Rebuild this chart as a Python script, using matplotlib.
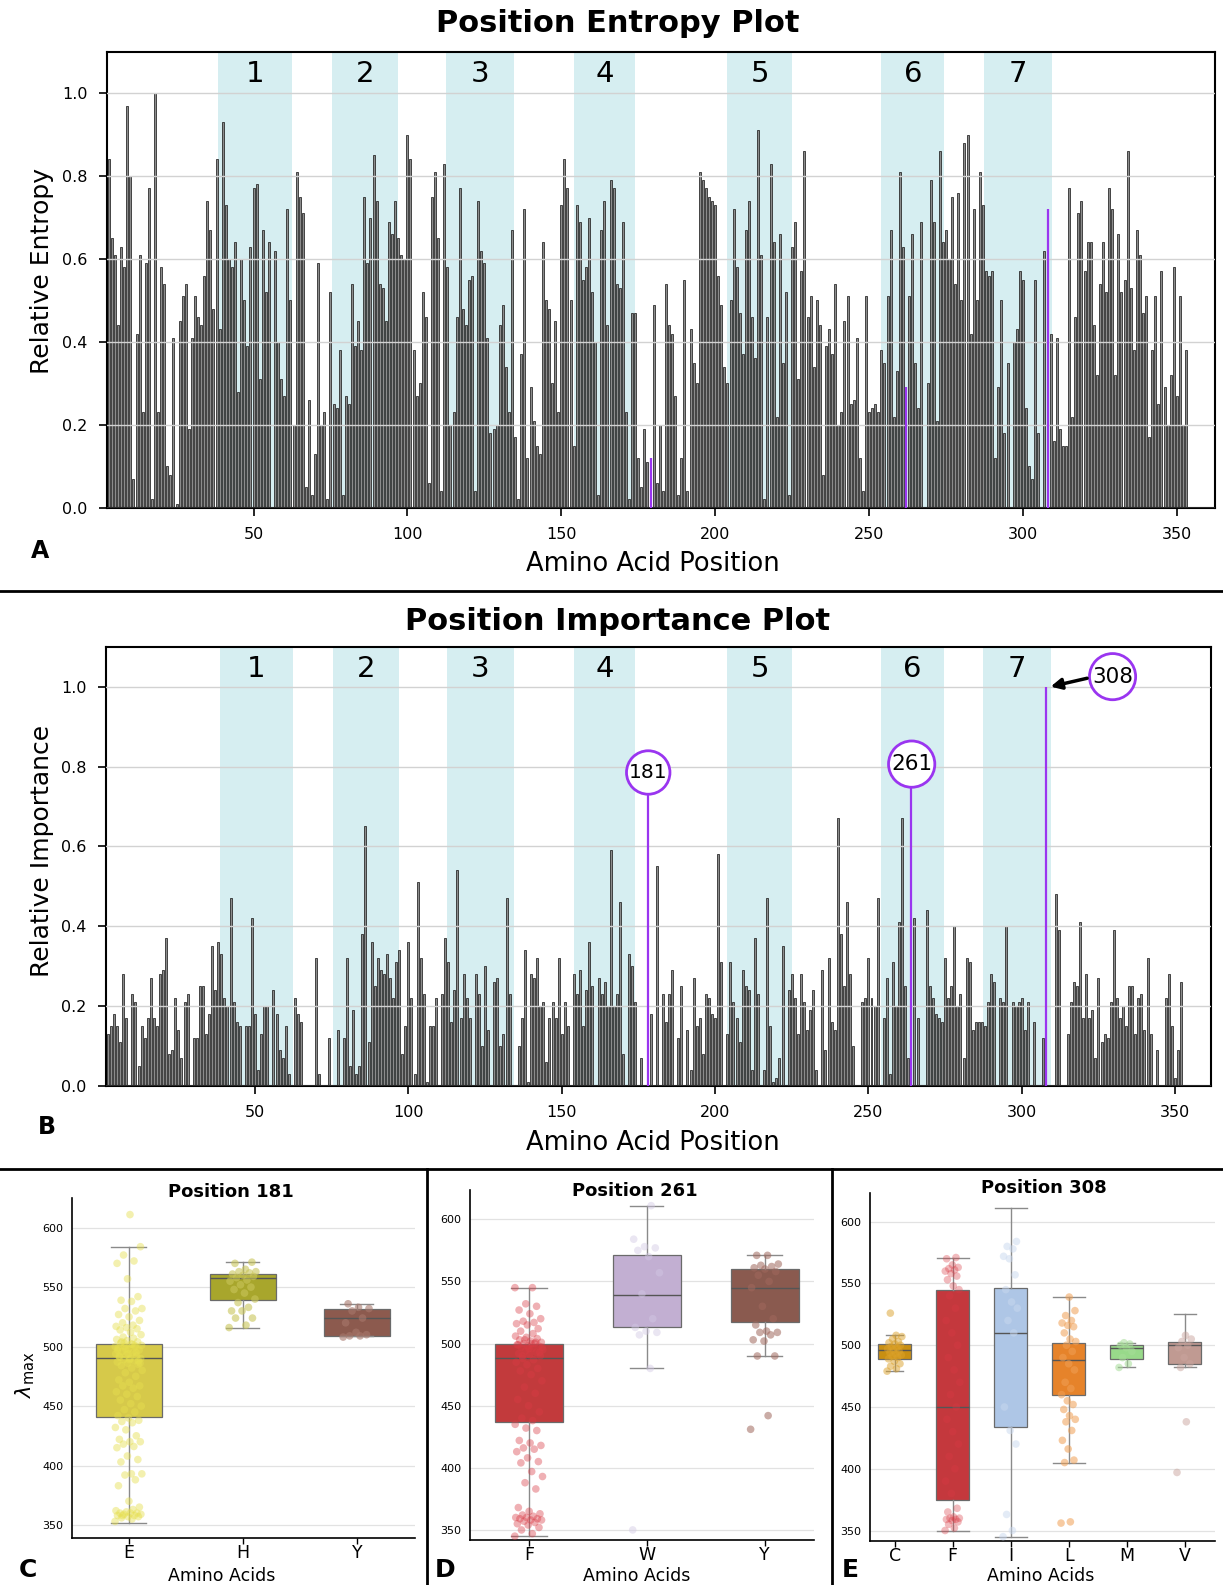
import numpy as np
import matplotlib.pyplot as plt
from matplotlib.lines import Line2D

plt.rcParams['font.family'] = ['DejaVu Sans']

# ---------------- data ----------------
# relative entropy per position (positions start at 2)
entropy = [
    0.26, 0.84, 0.65, 0.61, 0.44, 0.63, 0.58, 0.97, 0.80, 0.07,
    0.42, 0.61, 0.23, 0.59, 0.77, 0.02, 1.00, 0.23, 0.58, 0.54,
    0.10, 0.08, 0.41, 0.01, 0.45, 0.51, 0.54, 0.19, 0.41, 0.51,
    0.46, 0.44, 0.56, 0.74, 0.67, 0.48, 0.84, 0.43, 0.93, 0.73,
    0.60, 0.58, 0.64, 0.28, 0.60, 0.50, 0.39, 0.63, 0.77,
    0.78, 0.31, 0.67, 0.52, 0.64, 0.00, 0.62, 0.40, 0.31, 0.27,
    0.72, 0.50, 0.20, 0.81, 0.75, 0.71, 0.05, 0.26, 0.03, 0.13,
    0.59, 0.20, 0.23, 0.02, 0.52, 0.25, 0.24, 0.38, 0.03, 0.27,
    0.25, 0.54, 0.39, 0.45, 0.38, 0.75, 0.59, 0.70, 0.85, 0.74,
    0.54, 0.53, 0.45,
    0.69, 0.66, 0.74, 0.65, 0.61, 0.60, 0.90, 0.84, 0.38, 0.27,
    0.30, 0.52, 0.46, 0.06, 0.75, 0.81, 0.65, 0.04, 0.83, 0.58,
    0.20, 0.23, 0.46, 0.77, 0.48, 0.44, 0.55, 0.56, 0.04, 0.74,
    0.62, 0.59, 0.41, 0.18, 0.19, 0.20, 0.44, 0.49, 0.34, 0.23,
    0.67, 0.17, 0.02, 0.37, 0.72, 0.12, 0.29, 0.21, 0.15, 0.13,
    0.64, 0.50, 0.48, 0.30, 0.45, 0.23, 0.73, 0.84, 0.77, 0.50,
    0.15, 0.73, 0.69, 0.55, 0.58, 0.70, 0.52, 0.40, 0.03, 0.67,
    0.74, 0.44, 0.79, 0.77, 0.54, 0.53, 0.69, 0.23, 0.02, 0.47,
    0.47, 0.12, 0.05, 0.19, 0.11, 0.12, 0.49, 0.06, 0.20, 0.04,
    0.54, 0.44,
    0.42, 0.27, 0.03, 0.12, 0.55, 0.04, 0.43, 0.35, 0.30, 0.81,
    0.79, 0.77, 0.75, 0.74, 0.73, 0.56, 0.49, 0.34, 0.30, 0.50,
    0.72, 0.58, 0.47, 0.37, 0.67, 0.74, 0.46, 0.36, 0.91, 0.61,
    0.02, 0.46, 0.83, 0.64, 0.22, 0.66, 0.35, 0.52, 0.03, 0.63,
    0.69, 0.31, 0.57, 0.86, 0.46, 0.51, 0.34, 0.50, 0.44, 0.08,
    0.39, 0.43, 0.37, 0.54, 0.20, 0.23, 0.45, 0.51, 0.25, 0.26,
    0.41, 0.12, 0.04, 0.51, 0.23, 0.24, 0.25, 0.23, 0.38, 0.35,
    0.51, 0.67, 0.22, 0.33, 0.81, 0.63, 0.29, 0.51, 0.66, 0.35,
    0.24, 0.69, 0.00, 0.30, 0.79, 0.69, 0.21, 0.86, 0.64, 0.67,
    0.60, 0.75, 0.54, 0.76, 0.50, 0.88, 0.90, 0.42, 0.72, 0.50,
    0.81, 0.73, 0.57, 0.56, 0.57, 0.12, 0.29, 0.50, 0.18, 0.35,
    0.00, 0.40, 0.43, 0.57, 0.55, 0.24, 0.10, 0.07, 0.55, 0.18,
    0.00, 0.62, 0.72, 0.42, 0.16, 0.41, 0.19, 0.15, 0.15, 0.77,
    0.22, 0.46, 0.71, 0.74, 0.57, 0.64, 0.64, 0.44, 0.32, 0.54,
    0.64, 0.52, 0.77, 0.72, 0.32, 0.66, 0.52, 0.55, 0.86, 0.53,
    0.38, 0.67, 0.61, 0.47, 0.51, 0.17, 0.38, 0.51, 0.25, 0.57,
    0.29, 0.20, 0.32, 0.58, 0.27, 0.51, 0.20, 0.38,
]
entropy_start = 2
entropy_highlight = [179, 262, 308]

# relative importance per position (positions start at 2)
importance = [
    0.13, 0.15, 0.18, 0.15, 0.11, 0.28, 0.17, 0.00, 0.23, 0.21,
    0.05, 0.15, 0.12, 0.17, 0.27, 0.17, 0.15, 0.28, 0.29, 0.37,
    0.08, 0.09, 0.22, 0.14, 0.07, 0.21, 0.23, 0.00, 0.12, 0.12,
    0.25, 0.25, 0.13, 0.18, 0.35, 0.24, 0.36, 0.33, 0.22, 0.20,
    0.47, 0.21, 0.16, 0.15, 0.00, 0.15, 0.15, 0.42, 0.18, 0.04,
    0.13, 0.20, 0.20, 0.00, 0.24, 0.18, 0.09, 0.07, 0.15, 0.03,
    0.00, 0.22, 0.18, 0.16, 0.00, 0.00, 0.00, 0.003, 0.32, 0.03,
    0.00, 0.00, 0.12, 0.00, 0.00, 0.14, 0.00, 0.12, 0.32, 0.05,
    0.19, 0.03, 0.05, 0.38, 0.65, 0.11, 0.36, 0.25, 0.32, 0.29,
    0.28, 0.33, 0.27,
    0.22, 0.31, 0.34, 0.08, 0.15, 0.36, 0.22, 0.03, 0.51, 0.32,
    0.23, 0.01, 0.15, 0.15, 0.22, 0.00, 0.23, 0.37, 0.31, 0.16,
    0.24, 0.54, 0.17, 0.28, 0.22, 0.17, 0.00, 0.28, 0.23, 0.10,
    0.30, 0.14, 0.00, 0.26, 0.27, 0.10, 0.13, 0.47, 0.23, 0.00,
    0.00, 0.10, 0.17, 0.34, 0.01, 0.28, 0.27, 0.32, 0.20, 0.21,
    0.06, 0.17, 0.21, 0.17, 0.32, 0.13, 0.21, 0.15, 0.00, 0.28,
    0.23, 0.29, 0.15, 0.24, 0.36, 0.25, 0.00, 0.27, 0.23, 0.26,
    0.20, 0.59, 0.20, 0.23, 0.46, 0.08, 0.00, 0.33, 0.30, 0.21,
    0.00, 0.07, 0.00, 0.73, 0.18, 0.00, 0.55, 0.00, 0.23, 0.16,
    0.23,
    0.29, 0.00, 0.12, 0.25, 0.00, 0.14, 0.04, 0.27, 0.15, 0.17,
    0.08, 0.23, 0.22, 0.18, 0.17, 0.58, 0.31, 0.00, 0.13, 0.31,
    0.21, 0.17, 0.11, 0.29, 0.25, 0.24, 0.04, 0.37, 0.23, 0.00,
    0.04, 0.47, 0.15, 0.01, 0.02, 0.07, 0.35, 0.00, 0.24, 0.28,
    0.22, 0.13, 0.28, 0.21, 0.14, 0.19, 0.24, 0.04, 0.00, 0.29,
    0.09, 0.32, 0.16, 0.14, 0.67, 0.38, 0.25, 0.46, 0.28, 0.10,
    0.00, 0.00, 0.21, 0.22, 0.32, 0.22, 0.20, 0.47, 0.00, 0.17,
    0.27, 0.03, 0.31, 0.20, 0.41, 0.67, 0.25, 0.07, 0.745, 0.42,
    0.17, 0.00, 0.00, 0.44, 0.25, 0.22, 0.18, 0.17, 0.16, 0.32,
    0.22,
    0.25, 0.40, 0.20, 0.23, 0.07, 0.32, 0.31, 0.14, 0.16, 0.16,
    0.16, 0.15, 0.21, 0.28, 0.26, 0.00, 0.22, 0.21, 0.40, 0.00,
    0.21, 0.20, 0.21, 0.22, 0.14, 0.21, 0.00, 0.16, 0.00, 0.00,
    0.12, 1.00, 0.00, 0.00, 0.48, 0.39, 0.00, 0.00, 0.13, 0.21,
    0.26, 0.25, 0.41, 0.17, 0.28, 0.17, 0.19, 0.07, 0.27, 0.11,
    0.13, 0.12, 0.21, 0.39, 0.22, 0.17, 0.20, 0.15, 0.25, 0.25,
    0.13, 0.22, 0.23, 0.14, 0.32, 0.13, 0.00, 0.09, 0.00, 0.00,
    0.22, 0.28, 0.15, 0.02, 0.09, 0.26,
]
importance_start = 2
importance_highlight = [178, 264, 308]
highlight_labels = ['181', '261', '308']

domain_bands = [(38.5, 62.5), (75.5, 97), (112.5, 134.5), (154, 174),
                (204, 225), (254, 274.5), (287.5, 309.5)]
domain_labels = ['1', '2', '3', '4', '5', '6', '7']

# box plot panels: categories, box statistics, strip points
c_cats = ['E', 'H', 'Y']
c_q1 = [441, 539, 509]
c_med = [490, 558, 524]
c_q3 = [502, 561, 532]
c_lo = [352, 516, 509]
c_hi = [584, 571, 536]
c_pts_E = [353, 355, 356, 357, 357, 358, 358, 359, 359, 360, 360, 360, 361, 362,
           363, 358, 365, 370, 383, 388, 392, 393, 393, 403, 405, 408, 415, 416,
           418, 420, 420, 422, 425, 430, 432, 436, 437, 438, 440, 442, 445, 447,
           450, 452, 455, 458, 460, 462, 465, 467, 467, 470, 472, 475, 478, 480,
           482, 484, 485, 486, 487, 488, 489, 490, 490, 491, 492, 493, 494, 495,
           496, 497, 498, 499, 500, 500, 501, 502, 503, 504, 505, 506, 507, 508,
           486, 489, 492, 495, 498, 500, 502, 504, 488, 494, 497, 501, 503,
           510, 512, 514, 515, 516, 517, 518, 520, 522, 525, 527, 530, 532, 532,
           538, 539, 542, 557, 570, 572, 577, 584, 611]
c_pts_H = [516, 518, 524, 524, 530, 530, 533, 537, 540, 545, 548, 550, 552, 555,
           556, 558, 559, 560, 561, 562, 563, 563, 565, 570, 571]
c_pts_Y = [508, 509, 509, 510, 512, 520, 524, 530, 532, 533, 536]

d_cats = ['F', 'W', 'Y']
d_q1 = [437, 513, 517]
d_med = [488, 539, 545]
d_q3 = [500, 571, 560]
d_lo = [345, 480, 490]
d_hi = [545, 611, 571]
d_pts_F = [345, 347, 350, 352, 354, 355, 356, 357, 358, 358, 359, 359, 360, 360,
           361, 362, 363, 365, 368, 383, 388, 393, 397, 404, 405, 408, 413, 415,
           416, 418, 420, 422, 430, 432, 435, 438, 440, 445, 450, 455, 460, 465,
           470, 475, 478, 480, 483, 485, 487, 488, 490, 491, 492, 493, 494, 495,
           496, 497, 498, 498, 499, 500, 500, 501, 502, 503, 504, 505, 506, 508,
           490, 493, 496, 499, 501, 503, 497, 500,
           510, 512, 515, 516, 517, 518, 520, 524, 527, 530, 532, 545, 545]
d_pts_W = [350, 480, 507, 509, 510, 513, 520, 540, 557, 570, 575, 577, 578, 584, 611]
d_pts_Y = [431, 442, 490, 490, 502, 503, 507, 509, 509, 510, 515, 520, 530, 545,
           550, 555, 558, 560, 561, 562, 563, 564, 571, 571]

e_cats = ['C', 'F', 'I', 'L', 'M', 'V']
e_q1 = [489, 375, 434, 460, 489, 485]
e_med = [496, 450, 510, 488, 498, 500]
e_q3 = [501, 545, 546, 502, 500, 503]
e_lo = [479, 350, 345, 405, 482, 482]
e_hi = [508, 571, 611, 539, 502, 525]
e_pts_C = [479, 481, 483, 485, 487, 489, 490, 491, 492, 493, 494, 495, 496, 497,
           498, 499, 500, 501, 502, 503, 505, 507, 508, 526]
e_pts_F = [350, 352, 355, 357, 358, 359, 359, 360, 360, 361, 365, 368, 380, 390,
           400, 410, 420, 430, 440, 450, 460, 470, 480, 490, 500, 510, 520, 530,
           540, 545, 548, 553, 556, 558, 560, 561, 562, 563, 565, 570, 571]
e_pts_I = [345, 350, 363, 420, 431, 450, 510, 520, 530, 535, 545, 557, 570, 572,
           578, 580, 584]
e_pts_L = [356, 357, 405, 407, 416, 423, 431, 438, 440, 443, 448, 452, 455, 460,
           465, 470, 480, 485, 490, 495, 500, 503, 505, 510, 515, 516, 518, 520,
           524, 528, 539]
e_pts_M = [482, 485, 490, 495, 498, 500, 501, 502]
e_pts_V = [397, 438, 482, 485, 490, 498, 500, 503, 505, 508]

# ---------------- figure ----------------
W, H = 1223, 1585
fig = plt.figure(figsize=(W / 100, H / 100), dpi=100)
PURPLE = '#9a35f0'
BAND = '#d6eef1'


def add_ax(left, top, right, bottom):
    return fig.add_axes([left / W, 1 - bottom / H, (right - left) / W, (bottom - top) / H])


def position_panel(ax, values, start, highlight, xlim):
    x = np.arange(start, start + len(values))
    vals = np.array(values)
    mask = np.isin(x, highlight)
    for (a, b), lab in zip(domain_bands, domain_labels):
        ax.axvspan(a, b, color=BAND, lw=0, zorder=0)
        ax.text((a + b) / 2, 1.045, lab, ha='center', va='center', fontsize=21, zorder=3)
    ax.bar(x[~mask], vals[~mask], width=0.65, color='#8c8c8c', edgecolor='#202020',
           linewidth=0.55, zorder=2)
    ax.vlines(x[mask], 0, vals[mask], color=PURPLE, lw=1.6, zorder=3)
    ax.set_xlim(*xlim)
    ax.set_ylim(0, 1.1)
    ax.set_yticks([0.0, 0.2, 0.4, 0.6, 0.8, 1.0])
    ax.set_xticks([50, 100, 150, 200, 250, 300, 350])
    ax.yaxis.grid(True, color='#d2d2d2', lw=1.0, zorder=1)
    ax.set_axisbelow(False)
    ax.tick_params(labelsize=11.5, length=6, width=1.2)
    ax.tick_params(axis='y', pad=8)
    ax.tick_params(axis='x', pad=8)
    for s in ax.spines.values():
        s.set_linewidth(1.5)
    return x


# Panel A
axA = add_ax(106.7, 51.7, 1215, 507.7)
position_panel(axA, entropy, entropy_start, entropy_highlight, (2.3, 362.4))
fig.text(618 / W, 1 - 24 / H, 'Position Entropy Plot', ha='center', va='center',
         fontsize=22, fontweight='bold')
fig.text(42 / W, 1 - 271 / H, 'Relative Entropy', ha='center', va='center',
         rotation=90, fontsize=18)
fig.text(653 / W, 1 - 564 / H, 'Amino Acid Position', ha='center', va='center', fontsize=18.5)
fig.text(40 / W, 1 - 551 / H, 'A', ha='center', va='center', fontsize=17, fontweight='bold')

# Panel B
axB = add_ax(106, 646.7, 1210.7, 1086)
position_panel(axB, importance, importance_start, importance_highlight, (1.4, 361.6))
fig.text(618 / W, 1 - 621.6 / H, 'Position Importance Plot', ha='center', va='center',
         fontsize=22, fontweight='bold')
fig.text(42 / W, 1 - 851 / H, 'Relative Importance', ha='center', va='center',
         rotation=90, fontsize=18)
fig.text(653 / W, 1 - 1143 / H, 'Amino Acid Position', ha='center', va='center', fontsize=18.5)
fig.text(47 / W, 1 - 1127 / H, 'B', ha='center', va='center', fontsize=17, fontweight='bold')

circ = dict(boxstyle='circle,pad=0.12', fc='white', ec=PURPLE, lw=2)
axB.text(178.2, 0.785, highlight_labels[0], ha='center', va='center', fontsize=14.5,
         bbox=circ, zorder=6)
axB.text(264.1, 0.806, highlight_labels[1], ha='center', va='center', fontsize=15.5,
         bbox=circ, zorder=6)
axB.text(329.6, 1.025, highlight_labels[2], ha='center', va='center', fontsize=15.5,
         bbox=circ, zorder=6)
axB.annotate('', xy=(309.4, 1.0), xytext=(321.3, 1.021),
             arrowprops=dict(arrowstyle='-|>', color='black', lw=2.5, mutation_scale=16,
                             shrinkA=0, shrinkB=0), zorder=6)


def jitter(n, half):
    return (((np.arange(n) * 0.6180339887) % 1.0) - 0.5) * 2 * half


def box_panel(ax, cats, q1, med, q3, lo, hi, box_colors, pts, pt_colors, pt_alpha,
              capw, xlim, ylim, jw):
    stats = [dict(med=m, q1=a, q3=b, whislo=l, whishi=h, fliers=[])
             for a, m, b, l, h in zip(q1, med, q3, lo, hi)]
    bp = ax.bxp(stats, positions=list(range(len(cats))), widths=0.58, patch_artist=True,
                showfliers=False, capwidths=capw,
                boxprops=dict(edgecolor='#6a6a6a', linewidth=0.9),
                medianprops=dict(color='#555555', linewidth=1.0),
                whiskerprops=dict(color='#8a8a8a', linewidth=1.0),
                capprops=dict(color='#8a8a8a', linewidth=1.0))
    for patch, c in zip(bp['boxes'], box_colors):
        patch.set_facecolor(c)
        patch.set_zorder(2)
    for i, (vals, c, a) in enumerate(zip(pts, pt_colors, pt_alpha)):
        ax.scatter(i + jitter(len(vals), jw), vals, s=30, color=c, alpha=a,
                   edgecolors='none', zorder=3)
    ax.set_xlim(*xlim)
    ax.set_ylim(*ylim)
    ax.set_xticks(range(len(cats)))
    ax.set_xticklabels(cats, fontsize=12.5)
    ax.set_yticks([350, 400, 450, 500, 550, 600])
    ax.tick_params(axis='y', labelsize=8, length=0, pad=6)
    ax.tick_params(axis='x', length=4, width=1, pad=0.5)
    ax.yaxis.grid(True, color='#e2e2e2', lw=0.9)
    ax.set_axisbelow(True)
    for s in ['top', 'right']:
        ax.spines[s].set_visible(False)
    for s in ['left', 'bottom']:
        ax.spines[s].set_linewidth(1.2)


# Panel C
axC = add_ax(71.7, 1198.3, 415, 1537.7)
box_panel(axC, c_cats, c_q1, c_med, c_q3, c_lo, c_hi,
          ['#d6c94a', '#a8a62c', '#8c5a4e'],
          [c_pts_E, c_pts_H, c_pts_Y], ['#e6df4f', '#c9c55a', '#a8786c'], [0.45, 0.6, 0.6],
          [0.31, 0.29, 0.29], (-0.5, 2.51), (339.3, 624.7), 0.12)
axC.text(0.465, 1.02, 'Position 181', transform=axC.transAxes, ha='center', va='center',
         fontsize=13, fontweight='bold')
fig.text(25 / W, 1 - 1375 / H, r'$\lambda_{\mathrm{max}}$', ha='center', va='center',
         rotation=90, fontsize=15)
fig.text(222 / W, 1 - 1576 / H, 'Amino Acids', ha='center', va='center', fontsize=12.5)
fig.text(28 / W, 1 - 1570 / H, 'C', ha='center', va='center', fontsize=18, fontweight='bold')

# Panel D
axD = add_ax(470, 1190, 814.3, 1540)
box_panel(axD, d_cats, d_q1, d_med, d_q3, d_lo, d_hi,
          ['#c23a3c', '#c2afd2', '#8a5a4f'],
          [d_pts_F, d_pts_W, d_pts_Y], ['#d93a44', '#d2c8e4', '#a0685d'], [0.4, 0.45, 0.55],
          [0.31, 0.28, 0.3], (-0.5, 2.42), (341.9, 623.6), 0.12)
axD.text(0.479, 0.997, 'Position 261', transform=axD.transAxes, ha='center', va='center',
         fontsize=13, fontweight='bold')
fig.text(637 / W, 1 - 1576 / H, 'Amino Acids', ha='center', va='center', fontsize=12.5)
fig.text(445 / W, 1 - 1570 / H, 'D', ha='center', va='center', fontsize=18, fontweight='bold')

# Panel E
axE = add_ax(869.7, 1193.3, 1214.7, 1541)
box_panel(axE, e_cats, e_q1, e_med, e_q3, e_lo, e_hi,
          ['#c98f12', '#c4383d', '#aec6e6', '#e6832a', '#98d98a', '#c09a92'],
          [e_pts_C, e_pts_F, e_pts_I, e_pts_L, e_pts_M, e_pts_V],
          ['#dba12a', '#d93a44', '#c9d8ee', '#f0a055', '#a6dd98', '#caa59e'],
          [0.5, 0.35, 0.5, 0.55, 0.55, 0.5],
          [0.3, 0.55, 0.55, 0.55, 0.3, 0.38], (-0.43, 5.52), (341.5, 623), 0.13)
axE.text(0.505, 1.014, 'Position 308', transform=axE.transAxes, ha='center', va='center',
         fontsize=13, fontweight='bold')
fig.text(1041 / W, 1 - 1576 / H, 'Amino Acids', ha='center', va='center', fontsize=12.5)
fig.text(850 / W, 1 - 1570 / H, 'E', ha='center', va='center', fontsize=18, fontweight='bold')

# separators between panels
fig.add_artist(Line2D([0, 1], [1 - 591 / H, 1 - 591 / H], color='black', lw=2))
fig.add_artist(Line2D([0, 1], [1 - 1169 / H, 1 - 1169 / H], color='black', lw=2))
fig.add_artist(Line2D([426.5 / W, 426.5 / W], [0, 1 - 1169 / H], color='black', lw=2))
fig.add_artist(Line2D([832 / W, 832 / W], [0, 1 - 1169 / H], color='black', lw=2))

fig.savefig('out.png', dpi=100)
